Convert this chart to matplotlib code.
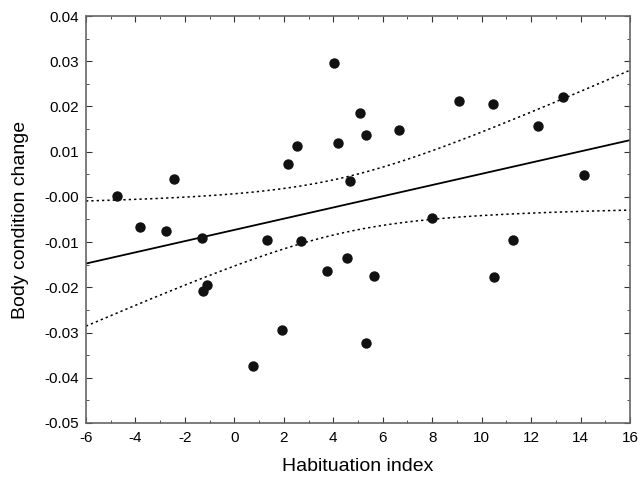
import matplotlib
matplotlib.use('Agg')
import numpy as np
import matplotlib.pyplot as plt
from matplotlib.ticker import MultipleLocator, FormatStrFormatter

plt.rcParams['font.family'] = ['Liberation Sans', 'DejaVu Sans']
plt.rcParams['axes.unicode_minus'] = False

# habituation index vs body condition change
habituation = [-4.75, -2.44, -3.81, -2.76, -1.29, 1.33, 2.69, 3.74, 4.55, -1.09,
               -1.26, 1.91, 0.76, 2.16, 2.54, 4.05, 4.20, 4.69, 5.09, 5.34,
               6.67, 9.10, 10.46, 12.26, 13.28, 14.12, 7.99, 5.63, 5.32, 10.48, 11.26]
condition = [0.0002, 0.0040, -0.0066, -0.0076, -0.0092, -0.0095, -0.0098, -0.0165, -0.0136, -0.0195,
             -0.0209, -0.0295, -0.0373, 0.0073, 0.0113, 0.0296, 0.0120, 0.0036, 0.0185, 0.0137,
             0.0149, 0.0212, 0.0206, 0.0157, 0.0221, 0.0048, -0.0047, -0.0174, -0.0324, -0.0177, -0.0096]

x = np.array(habituation)
y = np.array(condition)

# linear fit + 95% confidence band of the mean
n = len(x)
b, a = np.polyfit(x, y, 1)
xs = np.linspace(-6, 16, 200)
yhat = a + b * xs
resid = y - (a + b * x)
s = np.sqrt(np.sum(resid ** 2) / (n - 2))
t = 2.045
se = s * np.sqrt(1 / n + (xs - x.mean()) ** 2 / np.sum((x - x.mean()) ** 2))

fig = plt.figure(figsize=(6.43, 4.78), dpi=100)
ax = fig.add_axes([0.1337, 0.1151, 0.8461, 0.8514])

ax.plot(xs, yhat, color='black', lw=1.3)
ax.plot(xs, yhat + t * se, color='black', lw=1.1, ls=(0, (1.5, 2)))
ax.plot(xs, yhat - t * se, color='black', lw=1.1, ls=(0, (1.5, 2)))
ax.scatter(x, y, s=42, color='#111111', zorder=3)

ax.set_xlim(-6, 16)
ax.set_ylim(-0.05, 0.04)
ax.xaxis.set_major_locator(MultipleLocator(2))
ax.xaxis.set_minor_locator(MultipleLocator(1))
ax.yaxis.set_major_locator(MultipleLocator(0.01))
ax.yaxis.set_minor_locator(MultipleLocator(0.005))
ax.yaxis.set_major_formatter(FormatStrFormatter('%.2f'))
ax.tick_params(which='both', direction='in', top=True, right=True, labelsize=11, color='#333333')
ax.tick_params(which='major', length=4)
ax.tick_params(which='minor', length=2.5)
ax.tick_params(axis='x', pad=6)
ax.tick_params(axis='y', pad=5)
for sp in ax.spines.values():
    sp.set_color('#666666')
    sp.set_linewidth(1.2)

ax.set_xlabel('Habituation index', fontsize=14, labelpad=9)
ax.set_ylabel('Body condition change', fontsize=14, labelpad=11)

fig.savefig('out.png', dpi=100)
